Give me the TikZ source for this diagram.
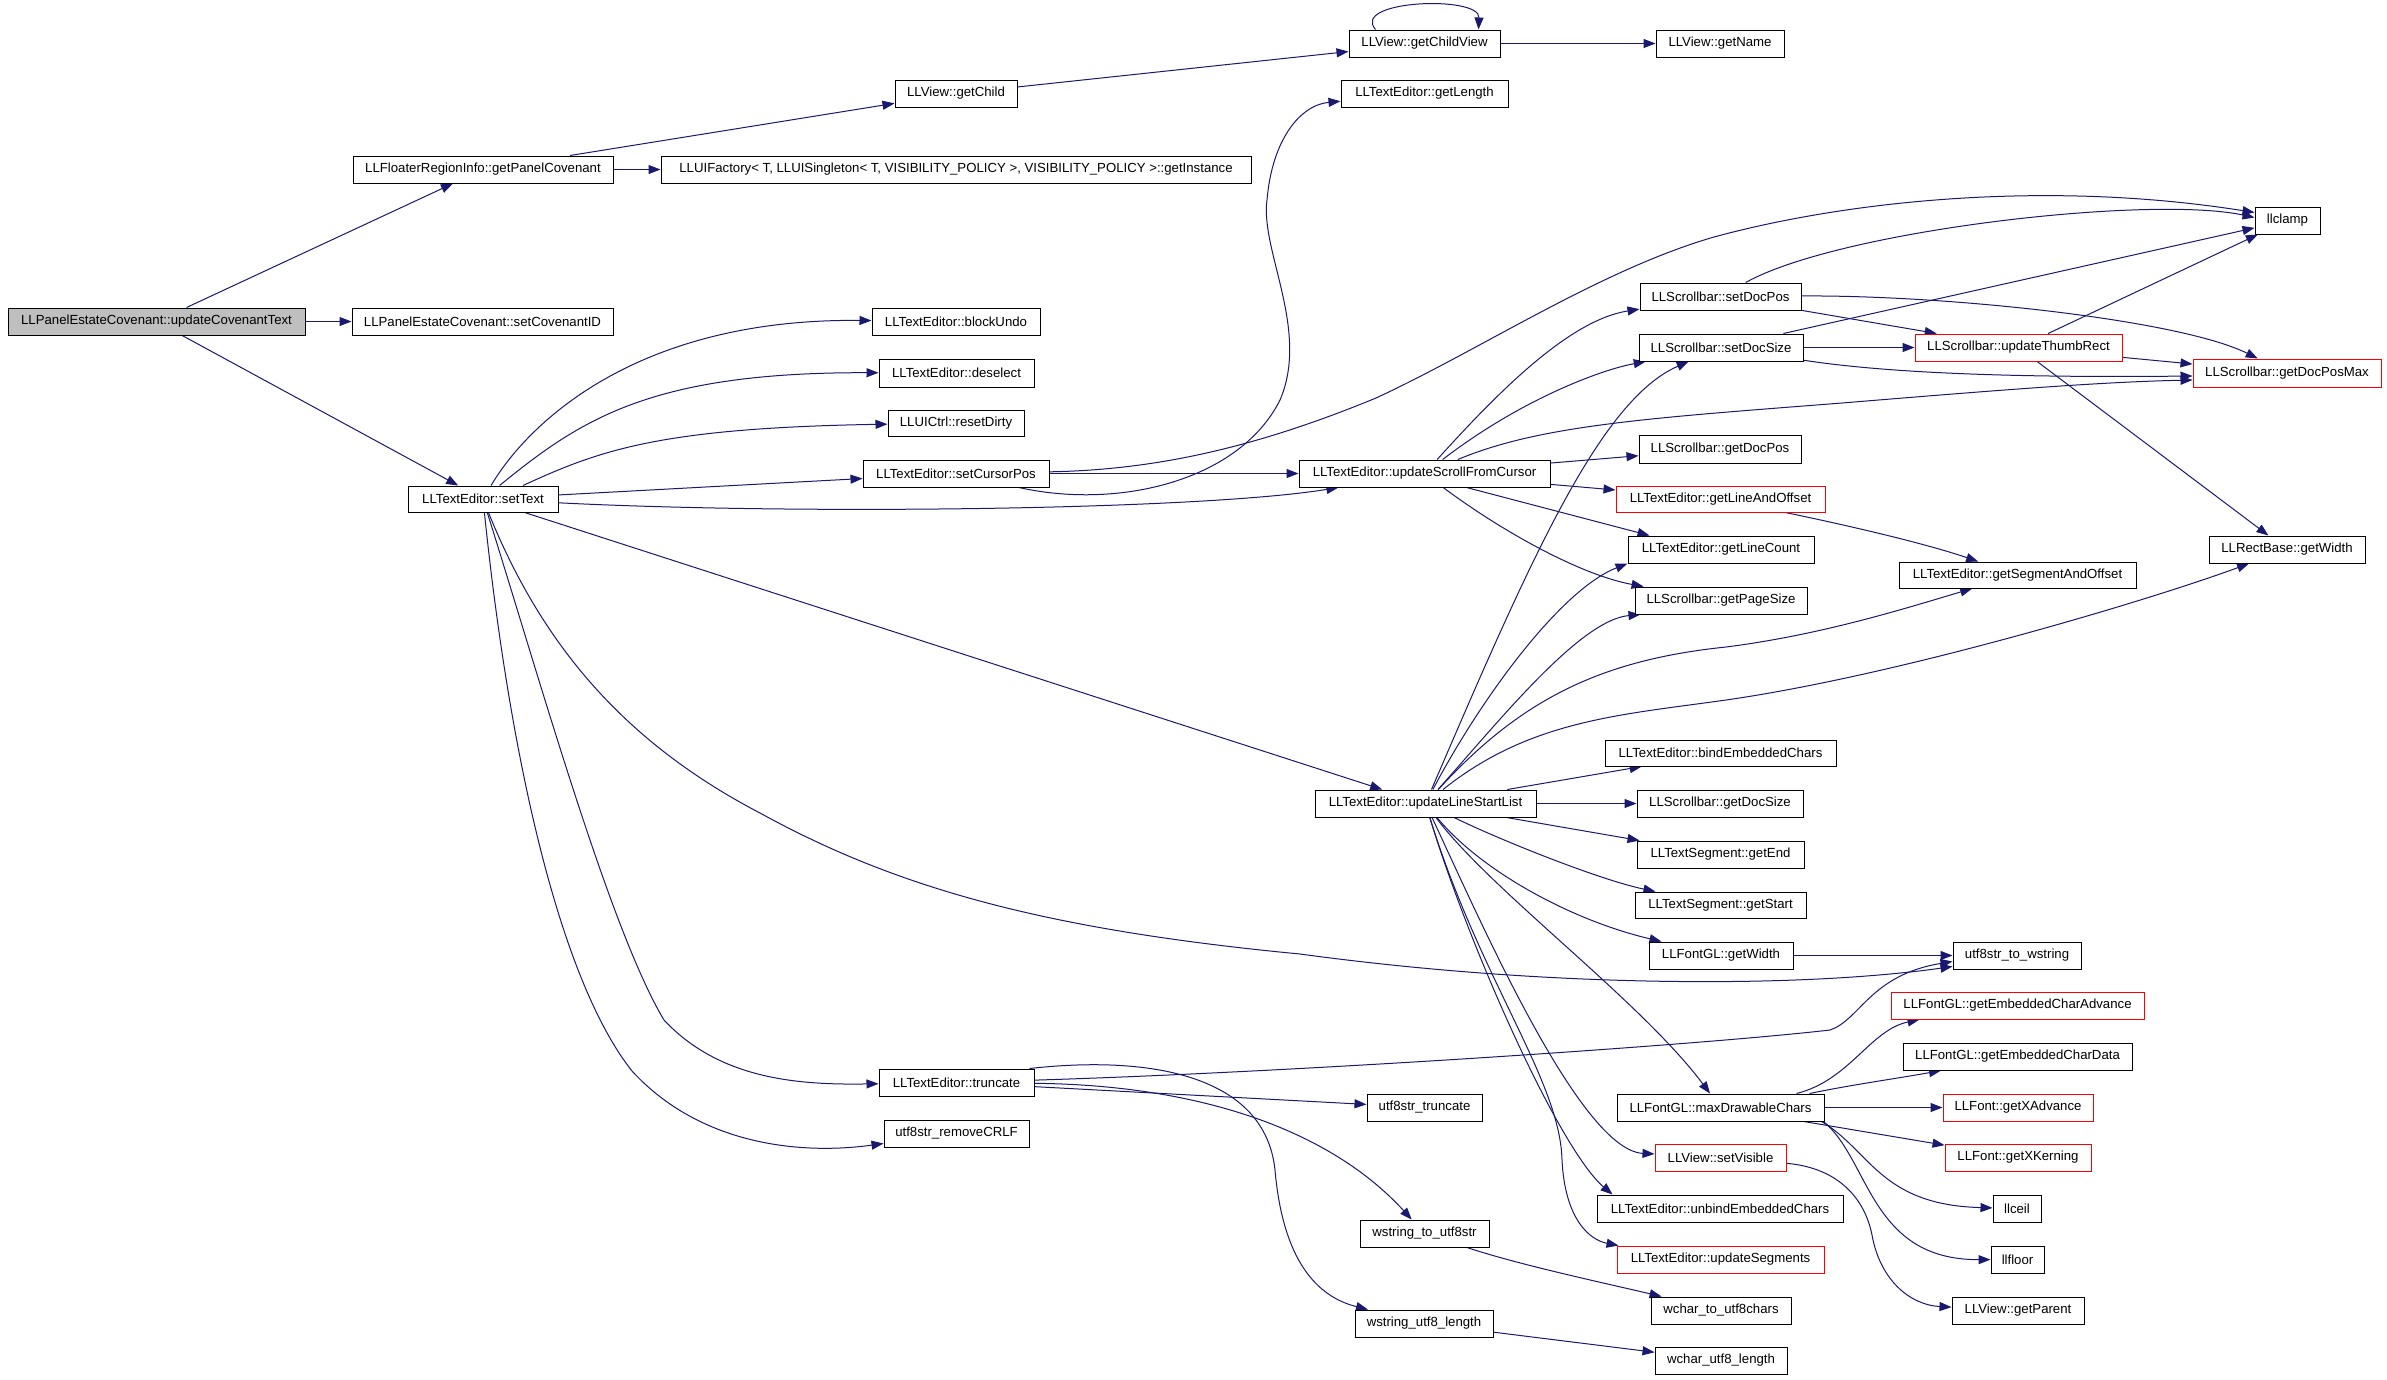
\documentclass[tikz,border=0pt]{standalone}
\usepackage{fontspec}
\setmainfont{Liberation Sans}
\usetikzlibrary{arrows.meta}
\definecolor{edgeblue}{HTML}{191970}
\definecolor{rootgray}{HTML}{BFBFBF}
\pgfdeclarelayer{back}
\pgfdeclarelayer{edges}
\pgfsetlayers{back,edges,main}
\newcommand{\mybox}[7][]{\node[box,#1,minimum width={#5-#3},minimum height={#6-#4}] (#2) at ({(#3+#5)/2},{(#4+#6)/2}) {#7};}
\begin{document}
\begin{tikzpicture}[x=1pt,y=-1pt,
  font=\fontsize{13.2}{15}\selectfont,
  box/.style={draw=black,line width=1pt,fill=white,inner sep=0pt},
  redbox/.style={draw=red},
  root/.style={fill=rootgray},
  edge/.style={draw=edgeblue,line width=1pt,-{Triangle[length=12pt,width=9pt,fill=edgeblue]}}]
\begin{pgfonlayer}{back}
\fill[white] (0,0) rectangle (2387,1379);
\end{pgfonlayer}
\useasboundingbox (0,0) rectangle (2387,1379);
% nodes
\mybox[root]{upd}{8}{308}{305}{335}{LLPanelEstateCovenant::updateCovenantText}
\mybox{gpc}{353}{156}{613}{183}{LLFloaterRegionInfo::getPanelCovenant}
\mybox{fac}{661}{156}{1251}{183}{LLUIFactory< T, LLUISingleton< T, VISIBILITY\_POLICY >, VISIBILITY\_POLICY >::getInstance}
\mybox{sci}{352}{308}{613}{335}{LLPanelEstateCovenant::setCovenantID}
\mybox{st}{408}{486}{558}{512}{LLTextEditor::setText}
\mybox{gc}{895}{80}{1017}{107}{LLView::getChild}
\mybox{gcv}{1349}{30}{1500}{57}{LLView::getChildView}
\mybox{gn}{1656}{30}{1784}{57}{LLView::getName}
\mybox{gl}{1341}{80}{1508}{107}{LLTextEditor::getLength}
\mybox{bu}{872}{308}{1040}{335}{LLTextEditor::blockUndo}
\mybox{ds}{879}{359}{1034}{387}{LLTextEditor::deselect}
\mybox{rd}{888}{410}{1024}{436}{LLUICtrl::resetDirty}
\mybox{scp}{863}{460}{1049}{487}{LLTextEditor::setCursorPos}
\mybox{usc}{1299}{460}{1550}{487}{LLTextEditor::updateScrollFromCursor}
\mybox{clamp}{2255}{207}{2320}{234}{llclamp}
\mybox{sdp}{1640}{283}{1801}{310}{LLScrollbar::setDocPos}
\mybox{sds}{1639}{334}{1803}{361}{LLScrollbar::setDocSize}
\mybox[redbox]{utr}{1915}{334}{2122}{361}{LLScrollbar::updateThumbRect}
\mybox[redbox]{gdpm}{2193}{359}{2381}{387}{LLScrollbar::getDocPosMax}
\mybox{gdp}{1639}{435}{1801}{463}{LLScrollbar::getDocPos}
\mybox[redbox]{glo}{1616}{486}{1825}{512}{LLTextEditor::getLineAndOffset}
\mybox{glc}{1628}{536}{1814}{563}{LLTextEditor::getLineCount}
\mybox{gso}{1899}{562}{2136}{588}{LLTextEditor::getSegmentAndOffset}
\mybox{rbw}{2209}{536}{2365}{563}{LLRectBase::getWidth}
\mybox{gps}{1635}{587}{1807}{614}{LLScrollbar::getPageSize}
\mybox{ulsl}{1315}{790}{1536}{817}{LLTextEditor::updateLineStartList}
\mybox{bec}{1605}{740}{1836}{766}{LLTextEditor::bindEmbeddedChars}
\mybox{gds}{1637}{790}{1803}{817}{LLScrollbar::getDocSize}
\mybox{ge}{1637}{841}{1804}{868}{LLTextSegment::getEnd}
\mybox{gs}{1635}{892}{1806}{918}{LLTextSegment::getStart}
\mybox{fgw}{1649}{942}{1793}{969}{LLFontGL::getWidth}
\mybox{u2w}{1953}{942}{2081}{969}{utf8str\_to\_wstring}
\mybox[redbox]{geca}{1891}{992}{2144}{1019}{LLFontGL::getEmbeddedCharAdvance}
\mybox{gecd}{1903}{1043}{2132}{1070}{LLFontGL::getEmbeddedCharData}
\mybox{mdc}{1617}{1094}{1824}{1121}{LLFontGL::maxDrawableChars}
\mybox[redbox]{gxa}{1943}{1094}{2093}{1121}{LLFont::getXAdvance}
\mybox{u8t}{1367}{1094}{1482}{1121}{utf8str\_truncate}
\mybox[redbox]{sv}{1655}{1144}{1786}{1171}{LLView::setVisible}
\mybox[redbox]{gxk}{1945}{1144}{2091}{1171}{LLFont::getXKerning}
\mybox{ubc}{1597}{1195}{1843}{1222}{LLTextEditor::unbindEmbeddedChars}
\mybox{ceil}{1993}{1195}{2041}{1222}{llceil}
\mybox{w2u}{1360}{1220}{1489}{1247}{wstring\_to\_utf8str}
\mybox[redbox]{useg}{1617}{1246}{1824}{1273}{LLTextEditor::updateSegments}
\mybox{floor}{1991}{1246}{2044}{1273}{llfloor}
\mybox{wc8}{1651}{1297}{1791}{1324}{wchar\_to\_utf8chars}
\mybox{gp}{1952}{1297}{2084}{1324}{LLView::getParent}
\mybox{wul}{1355}{1310}{1493}{1337}{wstring\_utf8\_length}
\mybox{wcl}{1655}{1347}{1787}{1374}{wchar\_utf8\_length}
\mybox{tr}{879}{1069}{1034}{1096}{LLTextEditor::truncate}
\mybox{rc}{884}{1120}{1029}{1147}{utf8str\_removeCRLF}
% edges
\begin{pgfonlayer}{edges}
\draw[edge] (upd) -- (gpc);
\draw[edge] (upd) -- (sci);
\draw[edge] (upd) -- (st);
\draw[edge] (gpc) -- (fac);
\draw[edge] (gpc) -- (gc);
\draw[edge] (gc) -- (gcv);
\draw[edge] ([xshift=27pt]gcv.north west) .. controls (1350,0) and (1480,-5) .. ([xshift=-22pt]gcv.north east);
\draw[edge] (gcv) -- (gn);
% setText
\draw[edge] (st) .. controls (530,420) and (640,318) .. (bu);
\draw[edge] (st) .. controls (580,420) and (650,372) .. (ds);
\draw[edge] ([xshift=40pt]st.north) .. controls (600,450) and (660,428) .. (rd);
\draw[edge] (st) -- (scp);
\draw[edge] (st) .. controls (800,515) and (1200,510) .. (usc);
\draw[edge] (st) -- (ulsl);
\draw[edge] (st) .. controls (540,640) and (620,740) .. (760,813) .. controls (900,890) and (1050,930) .. (1300,954) .. controls (1550,988) and (1800,988) .. ([yshift=-11pt]u2w.west);
\draw[edge] (st) .. controls (540,680) and (610,930) .. (664,1020) .. controls (720,1080) and (800,1085) .. (tr);
\draw[edge] (st) .. controls (510,760) and (560,980) .. (632,1071) .. controls (700,1145) and (800,1155) .. (rc);
% setCursorPos
\draw[edge] (scp) .. controls (1120,510) and (1240,480) .. (1280,400) .. controls (1310,330) and (1260,250) .. (1267,200) .. controls (1272,140) and (1300,105) .. (gl);
\draw[edge] (scp) -- (usc);
\draw[edge] (scp) .. controls (1150,470) and (1250,450) .. (1376,398) .. controls (1480,350) and (1600,270) .. (1714,237) .. controls (1850,200) and (2050,180) .. ([yshift=8pt]clamp.west);
% updateScrollFromCursor
\draw[edge] (usc) .. controls (1500,390) and (1570,320) .. (sdp);
\draw[edge] (usc) .. controls (1520,400) and (1600,370) .. (sds);
\draw[edge] (usc) .. controls (1540,425) and (1650,418) .. (1842,403) .. controls (2000,390) and (2100,382) .. ([yshift=-7pt]gdpm.west);
\draw[edge] (usc) -- (gdp);
\draw[edge] (usc) -- (glo);
\draw[edge] ([xshift=42pt]usc.south) -- ([xshift=22pt]glc.north west);
\draw[edge] (usc) .. controls (1500,530) and (1580,575) .. (gps);
% updateLineStartList
\draw[edge] (ulsl) .. controls (1530,560) and (1600,400) .. (sds);
\draw[edge] (ulsl) .. controls (1480,700) and (1560,590) .. (glc.south west);
\draw[edge] (ulsl) .. controls (1500,720) and (1580,620) .. ([xshift=6pt]gps.south west);
\draw[edge] (ulsl) .. controls (1520,700) and (1600,660) .. (1726,647) .. controls (1820,635) and (1900,610) .. (gso);
\draw[edge] (ulsl) .. controls (1530,720) and (1620,715) .. (1726,700) .. controls (1900,675) and (2150,600) .. (rbw);
\draw[edge] (ulsl) -- (bec);
\draw[edge] (ulsl) -- (gds);
\draw[edge] (ulsl) -- (ge);
\draw[edge] (ulsl) .. controls (1500,840) and (1600,880) .. (gs);
\draw[edge] (ulsl) .. controls (1480,870) and (1570,920) .. (fgw);
\draw[edge] (ulsl) .. controls (1490,890) and (1640,1000) .. (mdc);
\draw[edge] (ulsl) .. controls (1480,920) and (1580,1150) .. (sv);
\draw[edge] (ulsl) .. controls (1470,950) and (1560,1150) .. ([xshift=16pt]ubc.north west);
\draw[edge] (ulsl) .. controls (1480,980) and (1560,1080) .. (1562,1160) .. controls (1565,1220) and (1590,1240) .. ([xshift=2pt]useg.north west);
% scrollbar
\draw[edge] (sdp) .. controls (1840,230) and (2150,195) .. ([yshift=3pt]clamp.west);
\draw[edge] (sdp) -- (utr);
\draw[edge] (sdp) .. controls (1950,295) and (2180,320) .. (gdpm);
\draw[edge] (sds) -- (clamp);
\draw[edge] (sds) -- (utr);
\draw[edge] (sds) .. controls (1880,372) and (2000,378) .. ([yshift=-3pt]gdpm.west);
\draw[edge] (utr) -- (clamp);
\draw[edge] (utr) -- (gdpm);
\draw[edge] (utr) -- (rbw);
\draw[edge] (glo) .. controls (1860,528) and (1930,545) .. (gso);
\draw[edge] (fgw) -- (u2w);
% maxDrawableChars
\draw[edge] ([xshift=-28pt]mdc.north east) .. controls (1850,1080) and (1870,1030) .. ([xshift=29pt]geca.south west);
\draw[edge] ([xshift=-15pt]mdc.north east) .. controls (1850,1085) and (1900,1078) .. (gecd);
\draw[edge] (mdc) -- (gxa);
\draw[edge] (mdc) -- (gxk);
\draw[edge] ([xshift=-3pt]mdc.south east) .. controls (1870,1150) and (1880,1205) .. (ceil);
\draw[edge] ([xshift=-1pt]mdc.south east) .. controls (1870,1160) and (1870,1260) .. (floor);
% truncate
\draw[edge] (tr) .. controls (1300,1072) and (1700,1045) .. (1830,1030) .. controls (1860,1020) and (1870,975) .. ([yshift=-6pt]u2w.west);
\draw[edge] (tr) -- (u8t);
\draw[edge] (tr) .. controls (1200,1085) and (1330,1130) .. (w2u);
\draw[edge] ([xshift=-5pt]tr.north east) .. controls (1150,1055) and (1265,1075) .. (1275,1170) .. controls (1282,1250) and (1310,1295) .. (wul);
\draw[edge] (w2u) .. controls (1520,1265) and (1600,1282) .. (wc8);
\draw[edge] (wul) -- (wcl);
\draw[edge] (sv) .. controls (1840,1168) and (1865,1200) .. (1872,1235) .. controls (1880,1280) and (1910,1305) .. (gp);
\end{pgfonlayer}
\end{tikzpicture}
\end{document}
